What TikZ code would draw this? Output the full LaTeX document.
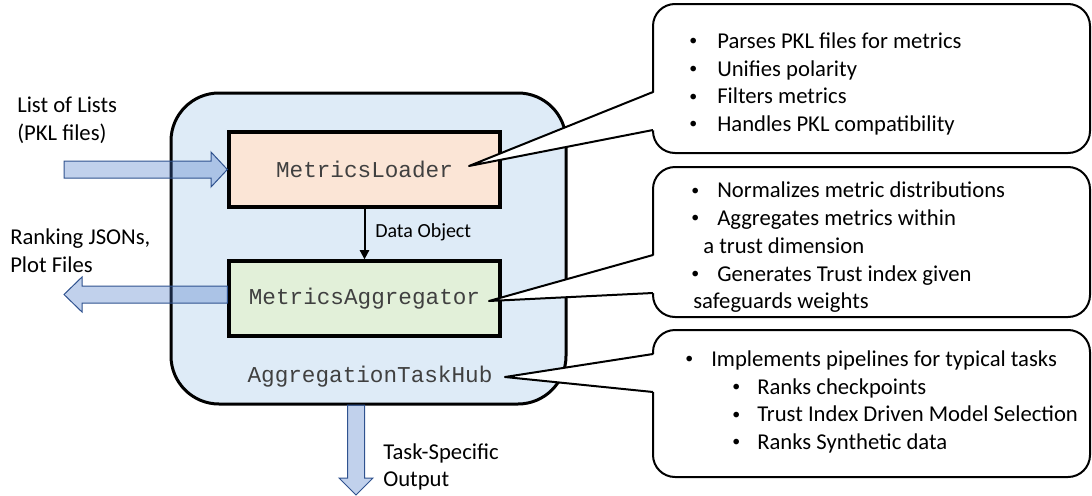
\documentclass[tikz,border=0pt]{standalone}
\usepackage{fontspec}
\setmainfont{Carlito}
\newfontfamily\codefont{Liberation Mono}
\usepackage{graphicx}
\usepackage{tikz}
\usetikzlibrary{arrows.meta}

\definecolor{hubblue}{HTML}{DEEBF7}
\definecolor{loaderorange}{HTML}{FBE5D6}
\definecolor{aggrgreen}{HTML}{E2F0D9}
\definecolor{flowblue}{HTML}{4472C4}
\definecolor{flowedge}{HTML}{2F528F}

\newcommand{\notebullet}[1]{\makebox[#1][l]{\raisebox{0.12em}{\scalebox{0.7}{\textbullet}}}}

\tikzset{
	hubbox/.style={draw, line width=2.25pt, fill=hubblue, rounded corners=36pt, minimum width=296.25pt, minimum height=233.25pt, inner sep=0pt},
	classbox/.style={draw, line width=2.5pt, minimum width=203.25pt, minimum height=56.25pt, inner sep=0pt},
	codetext/.style={font=\codefont\fontsize{17}{20}\selectfont, text=black!75},
	notebox/.style={draw, line width=1.5pt, fill=white, rounded corners=16.5pt, minimum width=327.75pt, inner sep=0pt},
	notetext/.style={anchor=west, align=left, inner sep=0pt, font=\fontsize{17}{20.8}\selectfont},
	pointer/.style={line width=1.5pt, line join=round},
	blockarrow/.style={draw=flowedge, line width=0.75pt, fill=flowblue, fill opacity=0.33},
	dataflow/.style={line width=1.5pt, -{Triangle[length=7pt,width=7pt]}}
}

\begin{document}
\begin{tikzpicture}[x=0.75pt, y=-0.75pt]
		\useasboundingbox (0,0) rectangle (1092,496);

		\node[hubbox] (hub) at (368.5,248.5) {};
		\node[classbox, fill=loaderorange, codetext] (loader) at (364.5,169.5) {MetricsLoader};
		\node[classbox, fill=aggrgreen, codetext] (aggr) at (364.5,298.5) {MetricsAggregator};
		\node[codetext, inner sep=0pt] (hublabel) at (370,377) {AggregationTaskHub};

		\draw[dataflow] (loader.south) -- (aggr.north);
		\node[anchor=west, inner sep=0pt, font=\fontsize{15}{18}\selectfont] (flowlabel) at (375,232) {Data Object};

		\draw[blockarrow] (64,161) -- (211,161) -- (211,152) -- (loader.west) -- (211,187) -- (211,178) -- (64,178) -- cycle;
		\draw[blockarrow] (aggr.west |- 0,286) -- (82,286) -- (82,277) -- (64,294.5) -- (82,312) -- (82,303) -- (aggr.west |- 0,303) -- cycle;
		\draw[blockarrow] (347.5,405) -- (347.5,478) -- (339,478) -- (356,495) -- (373,478) -- (364.5,478) -- (364.5,405) -- cycle;

		\node[notetext] (inlabel) at (17,120) {List of Lists\\(PKL files)};
		\node[notetext] (outlabel) at (10,251) {Ranking JSONs,\\Plot Files};
		\node[notetext] (tasklabel) at (383,467) {Task-Specific\\Output};

		\node[notebox, minimum height=111.75pt] (c1) at (871.5,78.5) {};
		\node[notebox, minimum height=112.5pt] (c2) at (871.5,242) {};
		\node[notebox, minimum height=110.25pt] (c3) at (871.5,403.5) {};

		\coordinate (P1) at (469,166);
		\coordinate (P2) at (489,301);
		\coordinate (P3) at (505,377);
		\coordinate (c1a) at (653,92);
		\coordinate (c1b) at (653,130);
		\coordinate (c2a) at (653,255);
		\coordinate (c2b) at (653,293);
		\coordinate (c3a) at (653,354);
		\coordinate (c3b) at (653,392);

		\foreach \ptip/\pa/\pb in {P1/c1a/c1b, P2/c2a/c2b, P3/c3a/c3b} {
			\fill[white] (\ptip) -- ([xshift=2pt]\pa) -- ([xshift=2pt]\pb) -- cycle;
			\draw[pointer] (\pa) -- (\ptip) -- (\pb);
		}

		\node[notetext] (t1) at (689,84) {\notebullet{21pt}Parses PKL files for metrics\\
			\notebullet{21pt}Unifies polarity\\
			\notebullet{21pt}Filters metrics\\
			\notebullet{21pt}Handles PKL compatibility};
		\node[notetext] (t2) at (691,247.5) {\notebullet{19.5pt}Normalizes metric distributions\\
			\notebullet{19.5pt}Aggregates metrics within\\
			\hspace*{9pt}a trust dimension\\
			\notebullet{19.5pt}Generates Trust index given\\
			\hspace*{1.5pt}safeguards weights};
		\node[notetext] (t3) at (685,402) {\notebullet{19.5pt}Implements pipelines for typical tasks\\
			\hspace*{35.25pt}\notebullet{18.75pt}Ranks checkpoints\\
			\hspace*{35.25pt}\notebullet{18.75pt}Trust Index Driven Model Selection\\
			\hspace*{35.25pt}\notebullet{18.75pt}Ranks Synthetic data};
	\end{tikzpicture}
\end{document}
